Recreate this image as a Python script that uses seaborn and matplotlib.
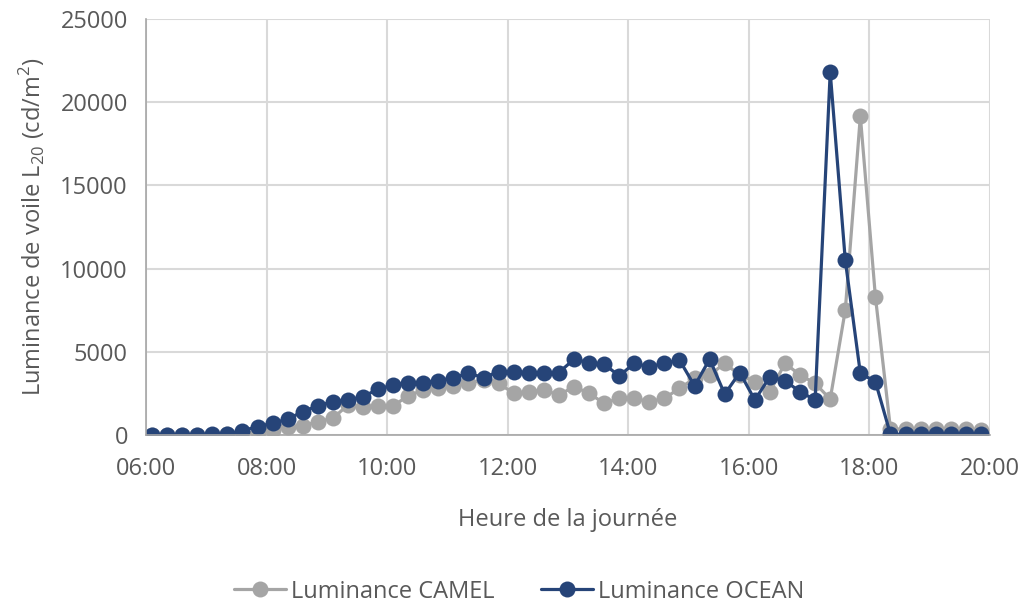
import matplotlib
matplotlib.use("Agg")
import matplotlib.pyplot as plt
from matplotlib.ticker import MultipleLocator, FuncFormatter
import seaborn as sns
import pandas as pd

# heures de mesure (pas de 15 min)
heures = [
    "06:06", "06:21", "06:36", "06:51", "07:06", "07:21", "07:36", "07:51",
    "08:06", "08:21", "08:36", "08:51", "09:06", "09:21", "09:36", "09:51",
    "10:06", "10:21", "10:36", "10:51", "11:06", "11:21", "11:36", "11:51",
    "12:06", "12:21", "12:36", "12:51", "13:06", "13:21", "13:36", "13:51",
    "14:06", "14:21", "14:36", "14:51", "15:06", "15:21", "15:36", "15:51",
    "16:06", "16:21", "16:36", "16:51", "17:06", "17:21", "17:36", "17:51",
    "18:06", "18:21", "18:36", "18:51", "19:06", "19:21", "19:36", "19:51",
]

lum_camel = [
    0, 0, 0, 0, 0, 50, 100, 200,
    300, 450, 550, 800, 1000, 1800, 1700, 1750,
    1750, 2350, 2700, 2800, 2950, 3100, 3300, 3100,
    2500, 2600, 2700, 2400, 2900, 2500, 1900, 2200,
    2200, 2000, 2200, 2800, 3400, 3600, 4300, 3600,
    3200, 2600, 4300, 3600, 3100, 2150, 7500, 19150,
    8300, 350, 350, 350, 350, 350, 350, 300,
]

lum_ocean = [
    0, 0, 0, 0, 50, 50, 250, 500,
    700, 950, 1400, 1750, 2000, 2100, 2300, 2750,
    3000, 3150, 3150, 3250, 3450, 3700, 3450, 3800,
    3800, 3750, 3750, 3750, 4550, 4350, 4250, 3550,
    4300, 4100, 4300, 4500, 2950, 4550, 2450, 3750,
    2100, 3500, 3250, 2600, 2100, 21800, 10500, 3700,
    3200, 30, 30, 30, 30, 30, 30, 30,
]

series = ["Luminance CAMEL", "Luminance OCEAN"]
couleurs = ["#a5a5a5", "#264478"]


def to_hours(s):
    h, m = s.split(":")
    return int(h) + int(m) / 60


def main():
    x = [to_hours(h) for h in heures]
    df = pd.concat([
        pd.DataFrame({"heure": x, "lum": lum_camel, "serie": series[0]}),
        pd.DataFrame({"heure": x, "lum": lum_ocean, "serie": series[1]}),
    ])

    sns.set_style("white")
    plt.rcParams["font.family"] = ["Open Sans", "DejaVu Sans"]
    plt.rcParams["mathtext.fontset"] = "custom"
    plt.rcParams["mathtext.rm"] = "Open Sans"
    gris = "#595959"
    fs = 17

    fig = plt.figure(figsize=(10.28, 6.10), dpi=100)
    ax = fig.add_axes([0.142, 0.287, 0.821, 0.682])

    sns.lineplot(data=df, x="heure", y="lum", hue="serie", hue_order=series,
                 palette=couleurs, marker="o", markersize=11.5, linewidth=2.3,
                 markeredgewidth=0, ax=ax, legend=False, sort=False)

    ax.set_xlim(6, 20)
    ax.set_ylim(0, 25000)
    ax.xaxis.set_major_locator(MultipleLocator(2))
    ax.xaxis.set_minor_locator(MultipleLocator(0.5))
    ax.yaxis.set_major_locator(MultipleLocator(5000))
    ax.yaxis.set_minor_locator(MultipleLocator(1000))
    ax.xaxis.set_major_formatter(FuncFormatter(lambda v, p: "%02d:00" % int(round(v))))

    ax.grid(True, which="major", color="#d9d9d9", linewidth=1.5)
    ax.set_axisbelow(True)
    for s in ["top", "right"]:
        ax.spines[s].set_visible(False)
    for s in ["left", "bottom"]:
        ax.spines[s].set_color("#a6a6a6")
        ax.spines[s].set_linewidth(1.2)
    ax.tick_params(which="both", direction="out", color="#a6a6a6", width=1.2,
                   length=5, labelsize=fs, labelcolor=gris)
    ax.tick_params(axis="x", which="major", pad=11)
    ax.tick_params(axis="y", which="major", pad=8)

    ax.set_xlabel("Heure de la journée", fontsize=fs, color=gris, labelpad=19)
    ax.set_ylabel(r"Luminance de voile L$_{\mathregular{20}}$ (cd/m$^{\mathregular{2}}$)",
                  fontsize=fs, color=gris, labelpad=9)

    handles = [plt.Line2D([], [], color=c, marker="o", markersize=11.5, linewidth=2.3,
                          markeredgewidth=0) for c in couleurs]
    fig.legend(handles, series, loc="center", bbox_to_anchor=(0.505, 0.03), ncol=2,
               frameon=False, fontsize=fs, labelcolor=gris, handlelength=2.2,
               handletextpad=0.2, columnspacing=2.0)

    fig.savefig("out.png", dpi=100)


if __name__ == "__main__":
    main()
